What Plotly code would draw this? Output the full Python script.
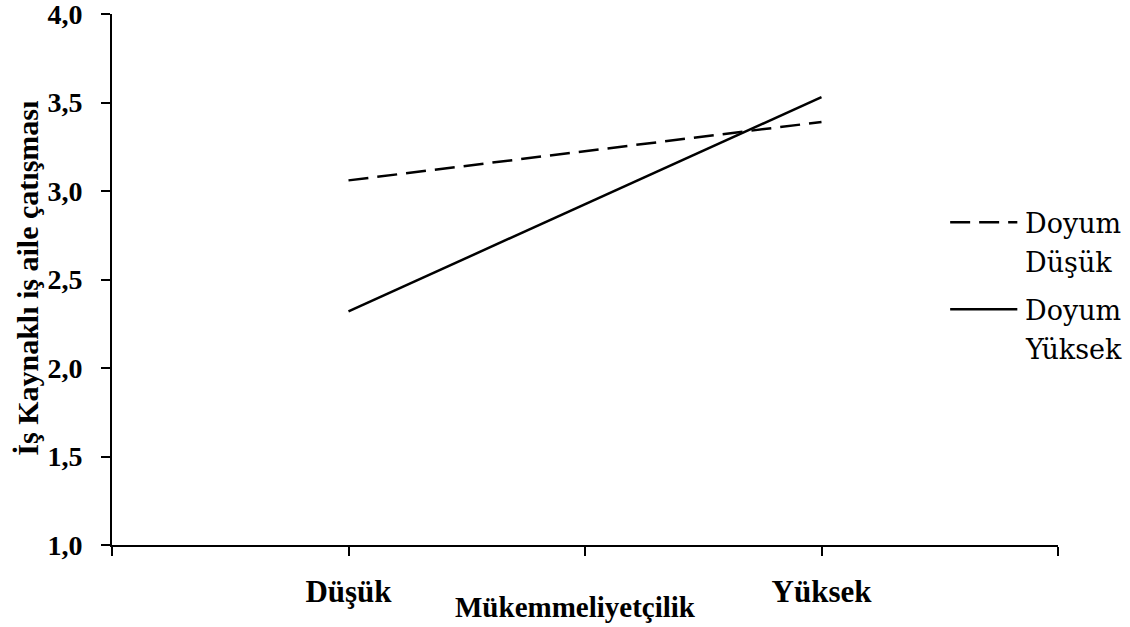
import plotly.graph_objects as go

# veri
kategoriler = ["Düşük", "Yüksek"]
seri_adlari = ["Doyum<br>Düşük", "Doyum<br>Yüksek"]
doyum_dusuk = [3.06, 3.39]
doyum_yuksek = [2.32, 3.53]
y_ticks = [1.0, 1.5, 2.0, 2.5, 3.0, 3.5, 4.0]

FONT = "Liberation Serif, Times New Roman, Times, serif"
FONT_LEJANT = "DejaVu Serif, serif"

# kategoriler eksende 1 ve 3 konumunda (Excel tarzı, aralarda çentik)
x_pos = [2 * i + 1 for i in range(len(kategoriler))]
x_tick_vals = list(range(2 * len(kategoriler) + 1))
x_tick_text = ["" if v % 2 == 0 else "<b>%s</b>" % kategoriler[v // 2] for v in x_tick_vals]

fig = go.Figure()
fig.add_trace(go.Scatter(x=x_pos, y=doyum_dusuk, mode="lines", name=seri_adlari[0],
                         line=dict(color="black", width=2.5, dash="20px,9px")))
fig.add_trace(go.Scatter(x=x_pos, y=doyum_yuksek, mode="lines", name=seri_adlari[1],
                         line=dict(color="black", width=2.5)))

fig.update_layout(
    width=1130, height=627,
    margin=dict(l=112, r=72, t=14, b=82),
    plot_bgcolor="white", paper_bgcolor="white",
    showlegend=False,
    font=dict(family=FONT, color="black"),
)

fig.update_xaxes(
    range=[0, x_tick_vals[-1]], tickvals=x_tick_vals, ticktext=x_tick_text,
    showline=True, linecolor="black", linewidth=2,
    ticks="outside", ticklen=9, tickwidth=2, tickcolor="black",
    showgrid=False, zeroline=False, automargin=False,
    tickfont=dict(size=31, family=FONT),
    ticklabelstandoff=9, ticklabeloverflow="allow",
)
fig.update_yaxes(
    range=[y_ticks[0], y_ticks[-1]], tickvals=y_ticks,
    ticktext=["<b>%s</b>" % f"{v:.1f}".replace(".", ",") for v in y_ticks],
    showline=True, linecolor="black", linewidth=2,
    ticks="outside", ticklen=9, tickwidth=2, tickcolor="black",
    showgrid=False, zeroline=False, automargin=False,
    tickfont=dict(size=28, family=FONT),
    ticklabelstandoff=13, ticklabeloverflow="allow",
)

# eksen başlıkları
fig.add_annotation(text="<b>Mükemmeliyetçilik</b>", xref="paper", yref="paper",
                   x=0.49, y=-0.117, xanchor="center", yanchor="middle",
                   showarrow=False, font=dict(size=29, family=FONT))
fig.add_annotation(text="<b>İş Kaynaklı iş aile çatışması</b>", xref="paper", yref="paper",
                   x=-0.089, y=0.503, xanchor="center", yanchor="middle", textangle=-90,
                   showarrow=False, font=dict(size=30, family=FONT))

# lejant (sağda) - her satır ayrı, satır aralığı 39px
lejant_y = [0.608, 0.444]
lejant_dash = ["20px,9px", "solid"]
for ad, ly, d in zip(seri_adlari, lejant_y, lejant_dash):
    fig.add_shape(type="line", xref="paper", yref="paper", x0=0.886, x1=0.957, y0=ly, y1=ly,
                  line=dict(color="black", width=2.5, dash=d))
    for j, satir in enumerate(ad.split("<br>")):
        fig.add_annotation(text=satir, xref="paper", yref="paper", x=0.963, y=ly,
                           xanchor="left", yanchor="middle", yshift=-1 - 39 * j, align="left",
                           showarrow=False, font=dict(size=27, family=FONT_LEJANT))

# sayfa kenar boşluğunu kaldır ki grafik tam pencereye otursun
fig.write_html("out.html", post_script="document.body.style.margin='0';",
               config={"displayModeBar": False})
